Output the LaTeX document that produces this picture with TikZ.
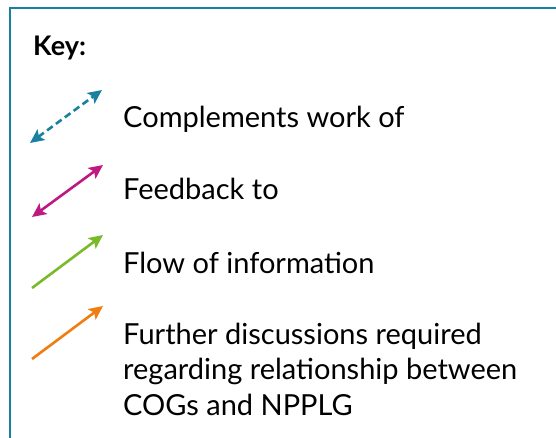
\documentclass[tikz,border=0pt]{standalone}
\usepackage{fontspec}
\setmainfont{Lato}
\usepackage{xcolor}
\usetikzlibrary{arrows.meta, positioning}
\definecolor{keyteal}{RGB}{26, 128, 160}
\definecolor{keymagenta}{RGB}{190, 25, 128}
\definecolor{keygreen}{RGB}{122, 185, 41}
\definecolor{keyorange}{RGB}{240, 125, 15}

\begin{document}
\begin{tikzpicture}[x=1pt, y=-1pt,
  entry/.style={anchor=base west, inner sep=0pt, align=left,
                font=\fontsize{29}{35.5}\selectfont},
  arr/.style={-{Stealth[length=14pt, width=13pt, inset=3pt]}, line width=2.6pt},
  darr/.style={{Stealth[length=14pt, width=13pt, inset=3pt]}-{Stealth[length=14pt, width=13pt, inset=3pt]}, line width=2.6pt}
]
\useasboundingbox (0,0) rectangle (556,438);
\draw[keyteal, line width=1.5pt] (10,438) -- (10,8) -- (556,8);

\node[entry, font=\fontsize{27}{30}\selectfont\bfseries] (key) at (33,56) {Key:};

% arrow samples
\coordinate (cw1) at (30,143);  \coordinate (cw2) at (102,90);
\coordinate (fb1) at (32,217);  \coordinate (fb2) at (103,165);
\coordinate (fl1) at (32,288);  \coordinate (fl2) at (103,235);
\coordinate (fd1) at (32,359);  \coordinate (fd2) at (103,306);

\draw[darr, keyteal, dash pattern=on 7pt off 4pt] (cw1) -- (cw2);
\draw[darr, keymagenta] (fb1) -- (fb2);
\draw[arr, keygreen] (fl1) -- (fl2);
\draw[arr, keyorange] (fd1) -- (fd2);

% labels (multi-line node sits on its last baseline)
\node[entry] (cw) at (123,128) {Complements work of};
\node[entry] (fb) at (123,200) {Feedback to};
\node[entry] (fl) at (123,273) {Flow of information};
\node[entry] (fd) at (123,415) {Further discussions required\\regarding relationship between\\COGs and NPPLG};
\end{tikzpicture}
\end{document}
